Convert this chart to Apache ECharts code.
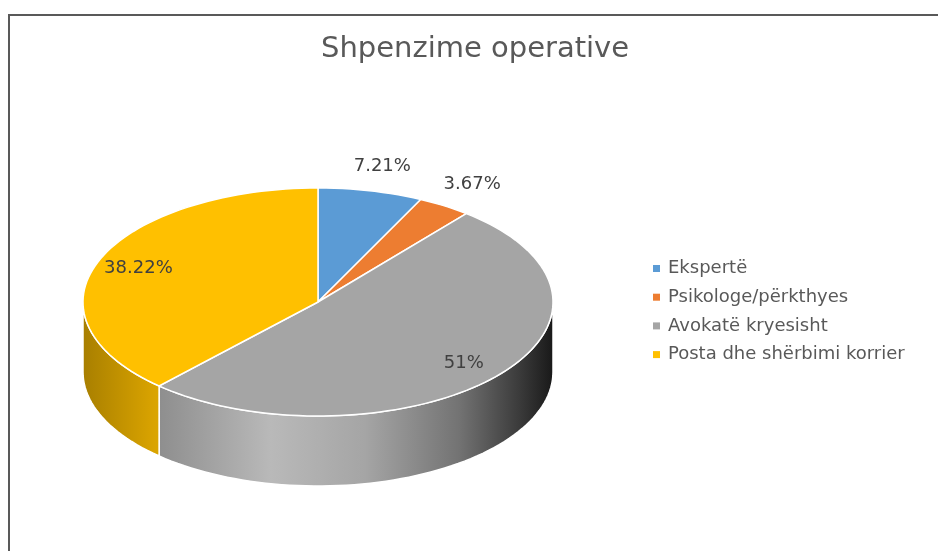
<!DOCTYPE html>
<html>
<head>
<meta charset="utf-8">
<script src="https://cdn.jsdelivr.net/npm/echarts@6/dist/echarts.min.js"></script>
<style>
html, body { margin: 0; padding: 0; background: #fff; }
#main { width: 938px; height: 551px; }
</style>
</head>
<body>
<div id="main"></div>
<script>
var categories = ['Ekspertë', 'Psikologe/përkthyes', 'Avokatë kryesisht', 'Posta dhe shërbimi korrier'];
var values = [7.21, 3.67, 51, 38.22];
var labels = ['7.21%', '3.67%', '51%', '38.22%'];
var colors = ['#5b9bd5', '#ed7d31', '#a5a5a5', '#ffc000'];

var chart = echarts.init(document.getElementById('main'));

// tilted pie: top face is an ellipse, front half gets a side wall
var cx = 318, cy = 302, rx = 235, ry = 114, depth = 70;
var total = values.reduce(function (a, b) { return a + b; }, 0);
var starts = [];
var acc = 0;
values.forEach(function (v) { starts.push(acc / total * 360); acc += v; });

function pt(deg, dy) {
    var r = deg * Math.PI / 180;
    return [cx + rx * Math.sin(r), cy - ry * Math.cos(r) + (dy || 0)];
}
function arc(a0, a1, dy) {
    var pts = [];
    var n = Math.max(2, Math.ceil((a1 - a0) / 2));
    for (var i = 0; i <= n; i++) pts.push(pt(a0 + (a1 - a0) * i / n, dy));
    return pts;
}
function shade(hex, f) {
    var c = [1, 3, 5].map(function (i) { return parseInt(hex.substr(i, 2), 16); });
    return 'rgb(' + c.map(function (v) { return Math.max(0, Math.min(255, Math.round(v * f))); }).join(',') + ')';
}
// lighting across the cylinder wall, left to right
var wallLight = [[0, 0.66], [0.15, 0.85], [0.4, 1.12], [0.6, 1.0], [0.8, 0.7], [0.93, 0.35], [1, 0.15]];
function wallFill(hex) {
    return {
        type: 'linear', global: true,
        x: cx - rx, y: 0, x2: cx + rx, y2: 0,
        colorStops: wallLight.map(function (s) { return { offset: s[0], color: shade(hex, s[1]) }; })
    };
}

function renderSlice(idx) {
    return function (params, api) {
        var a0 = starts[idx];
        var a1 = a0 + values[idx] / total * 360;
        var children = [];
        var s0 = Math.max(a0, 90), s1 = Math.min(a1, 270);
        if (s1 > s0) {
            var wall = arc(s0, s1, 0).concat(arc(s0, s1, depth).reverse());
            children.push({
                type: 'polygon', shape: { points: wall },
                style: { fill: wallFill(colors[idx]), stroke: '#fff', lineWidth: 1.5 }
            });
        }
        children.push({
            type: 'polygon', shape: { points: [[cx, cy]].concat(arc(a0, a1, 0)) },
            style: { fill: api.visual('color'), stroke: '#fff', lineWidth: 1.5 }
        });
        var mid = (a0 + a1) / 2 * Math.PI / 180;
        var f = values[idx] > 15 ? 0.82 : 1.22;
        children.push({
            type: 'text', z2: 10,
            x: cx + rx * f * Math.sin(mid), y: cy - ry * f * Math.cos(mid),
            style: {
                text: labels[idx], align: 'center', verticalAlign: 'middle',
                fill: '#404040', fontSize: 18, fontFamily: 'DejaVu Sans'
            }
        });
        return { type: 'group', children: children };
    };
}

var series = categories.map(function (name, i) {
    return {
        name: name,
        type: 'custom',
        coordinateSystem: 'none',
        itemStyle: { color: colors[i] },
        renderItem: renderSlice(i),
        data: [values[i]],
        silent: true
    };
});

option = {
    backgroundColor: '#fff',
    animation: false,
    title: {
        text: 'Shpenzime operative',
        left: 316,
        top: 30,
        textStyle: { fontSize: 29, fontWeight: 'normal', color: '#595959', fontFamily: 'DejaVu Sans' }
    },
    legend: {
        data: categories,
        orient: 'vertical',
        left: 648,
        top: 253,
        icon: 'rect',
        itemWidth: 7,
        itemHeight: 7,
        itemGap: 7.7,
        textStyle: { fontSize: 18, color: '#595959', fontFamily: 'DejaVu Sans', lineHeight: 21, padding: [0, 0, 0, 3] }
    },
    graphic: [{
        type: 'polyline',
        shape: { points: [[9, 551], [9, 15], [938, 15]] },
        style: { stroke: '#595959', lineWidth: 2, fill: null }
    }],
    series: series
};

chart.setOption(option);
</script>
</body>
</html>
